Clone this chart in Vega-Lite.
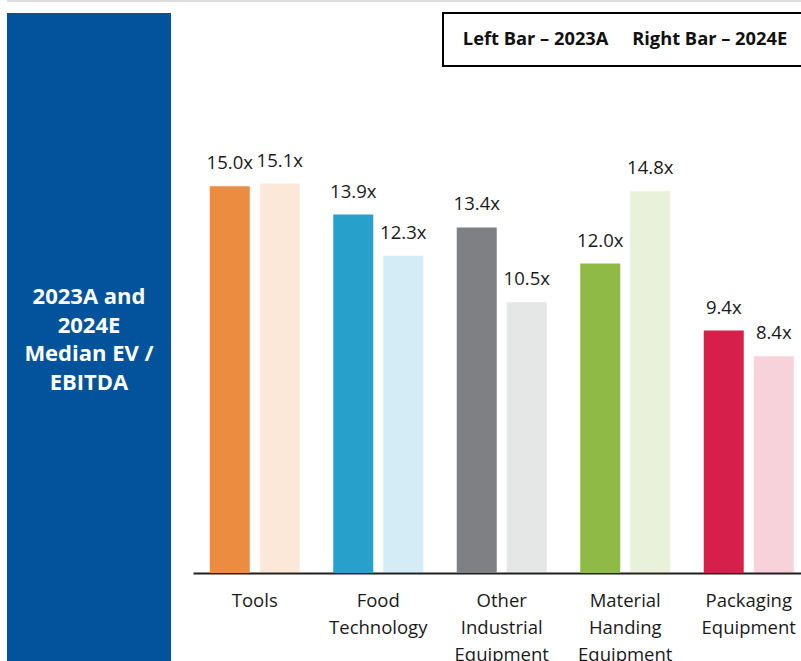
{
  "$schema": "https://vega.github.io/schema/vega-lite/v6.json",
  "padding": {"left": 7, "top": 0, "right": 0, "bottom": 0},
  "background": "white",
  "config": {"view": {"stroke": null}, "font": "Open Sans"},
  "spacing": 10,
  "vconcat": [
    {
      "width": 794,
      "height": 2,
      "data": {"values": [{"k": 1}]},
      "mark": {"type": "rect", "color": "#dcdcdc"}
    },
    {
      "spacing": 22,
      "hconcat": [
        {
          "width": 164,
          "height": 652,
          "view": {"fill": "#02529C", "stroke": null},
          "data": {"values": [{"title": "2023A and\n2024E\nMedian EV /\nEBITDA"}]},
          "mark": {"type": "text", "color": "white", "font": "Open Sans", "fontWeight": "bold", "fontSize": 22, "lineHeight": 28.5, "lineBreak": "\n", "align": "center", "baseline": "middle", "dy": -42},
          "encoding": {"text": {"field": "title", "type": "nominal"}}
        },
        {
          "spacing": 16,
          "vconcat": [
            {
              "spacing": 10,
              "hconcat": [
                {
                  "width": 239,
                  "height": 53,
                  "data": {"values": [{"k": 1}]},
                  "mark": {"type": "rect", "opacity": 0}
                },
                {
                  "width": 364,
                  "height": 53,
                  "view": {"stroke": "black", "strokeWidth": 2},
                  "data": {"values": [{"legend": "Left Bar – 2023A\u00a0\u00a0\u00a0\u00a0\u00a0Right Bar – 2024E"}]},
                  "mark": {"type": "text", "font": "Open Sans", "fontWeight": "bold", "fontSize": 18.3, "color": "#111111", "align": "center", "baseline": "middle"},
                  "encoding": {"text": {"field": "legend", "type": "nominal"}}
                }
              ]
            },
            {
              "width": 617.5,
              "height": 490,
              "data": {"values": [
                {"sector": "Tools", "year": "2023A", "value": 15.0, "label": "15.0x"},
                {"sector": "Tools", "year": "2024E", "value": 15.1, "label": "15.1x"},
                {"sector": "Food Technology", "year": "2023A", "value": 13.9, "label": "13.9x"},
                {"sector": "Food Technology", "year": "2024E", "value": 12.3, "label": "12.3x"},
                {"sector": "Other Industrial Equipment", "year": "2023A", "value": 13.4, "label": "13.4x"},
                {"sector": "Other Industrial Equipment", "year": "2024E", "value": 10.5, "label": "10.5x"},
                {"sector": "Material Handing Equipment", "year": "2023A", "value": 12.0, "label": "12.0x"},
                {"sector": "Material Handing Equipment", "year": "2024E", "value": 14.8, "label": "14.8x"},
                {"sector": "Packaging Equipment", "year": "2023A", "value": 9.4, "label": "9.4x"},
                {"sector": "Packaging Equipment", "year": "2024E", "value": 8.4, "label": "8.4x"}
              ]},
              "encoding": {
                "x": {
                  "field": "sector",
                  "type": "nominal",
                  "sort": null,
                  "scale": {"paddingInner": 0, "paddingOuter": 0},
                  "axis": {
                    "title": null,
                    "labelAngle": 0,
                    "ticks": false,
                    "domainColor": "#1f1f1f",
                    "domainWidth": 2,
                    "labelFont": "Open Sans",
                    "labelFontSize": 18.5,
                    "labelColor": "#1a1a1a",
                    "labelPadding": 33.7,
                    "labelBaseline": "alphabetic",
                    "labelLineHeight": 27,
                    "labelOverlap": false,
                    "labelLimit": 0,
                    "labelExpr": "split(datum.label, ' ')"
                  }
                },
                "xOffset": {
                  "field": "year",
                  "type": "nominal",
                  "scale": {"paddingInner": 0.2, "paddingOuter": 0.335}
                },
                "y": {
                  "field": "value",
                  "type": "quantitative",
                  "scale": {"domain": [0, 19]},
                  "axis": null
                }
              },
              "layer": [
                {
                  "mark": {"type": "bar"},
                  "encoding": {
                    "color": {
                      "field": "sector",
                      "type": "nominal",
                      "scale": {
                        "domain": ["Tools", "Food Technology", "Other Industrial Equipment", "Material Handing Equipment", "Packaging Equipment"],
                        "range": ["#EB8C41", "#28A0CC", "#7E8083", "#8FBA46", "#D61F4B"]
                      },
                      "legend": null
                    },
                    "opacity": {
                      "field": "year",
                      "type": "nominal",
                      "scale": {"domain": ["2023A", "2024E"], "range": [1, 0.2]},
                      "legend": null
                    }
                  }
                },
                {
                  "mark": {"type": "text", "baseline": "alphabetic", "dy": -17, "font": "Open Sans", "fontSize": 18.5, "color": "#1a1a1a"},
                  "encoding": {"text": {"field": "label", "type": "nominal"}}
                }
              ]
            }
          ]
        }
      ]
    }
  ]
}
